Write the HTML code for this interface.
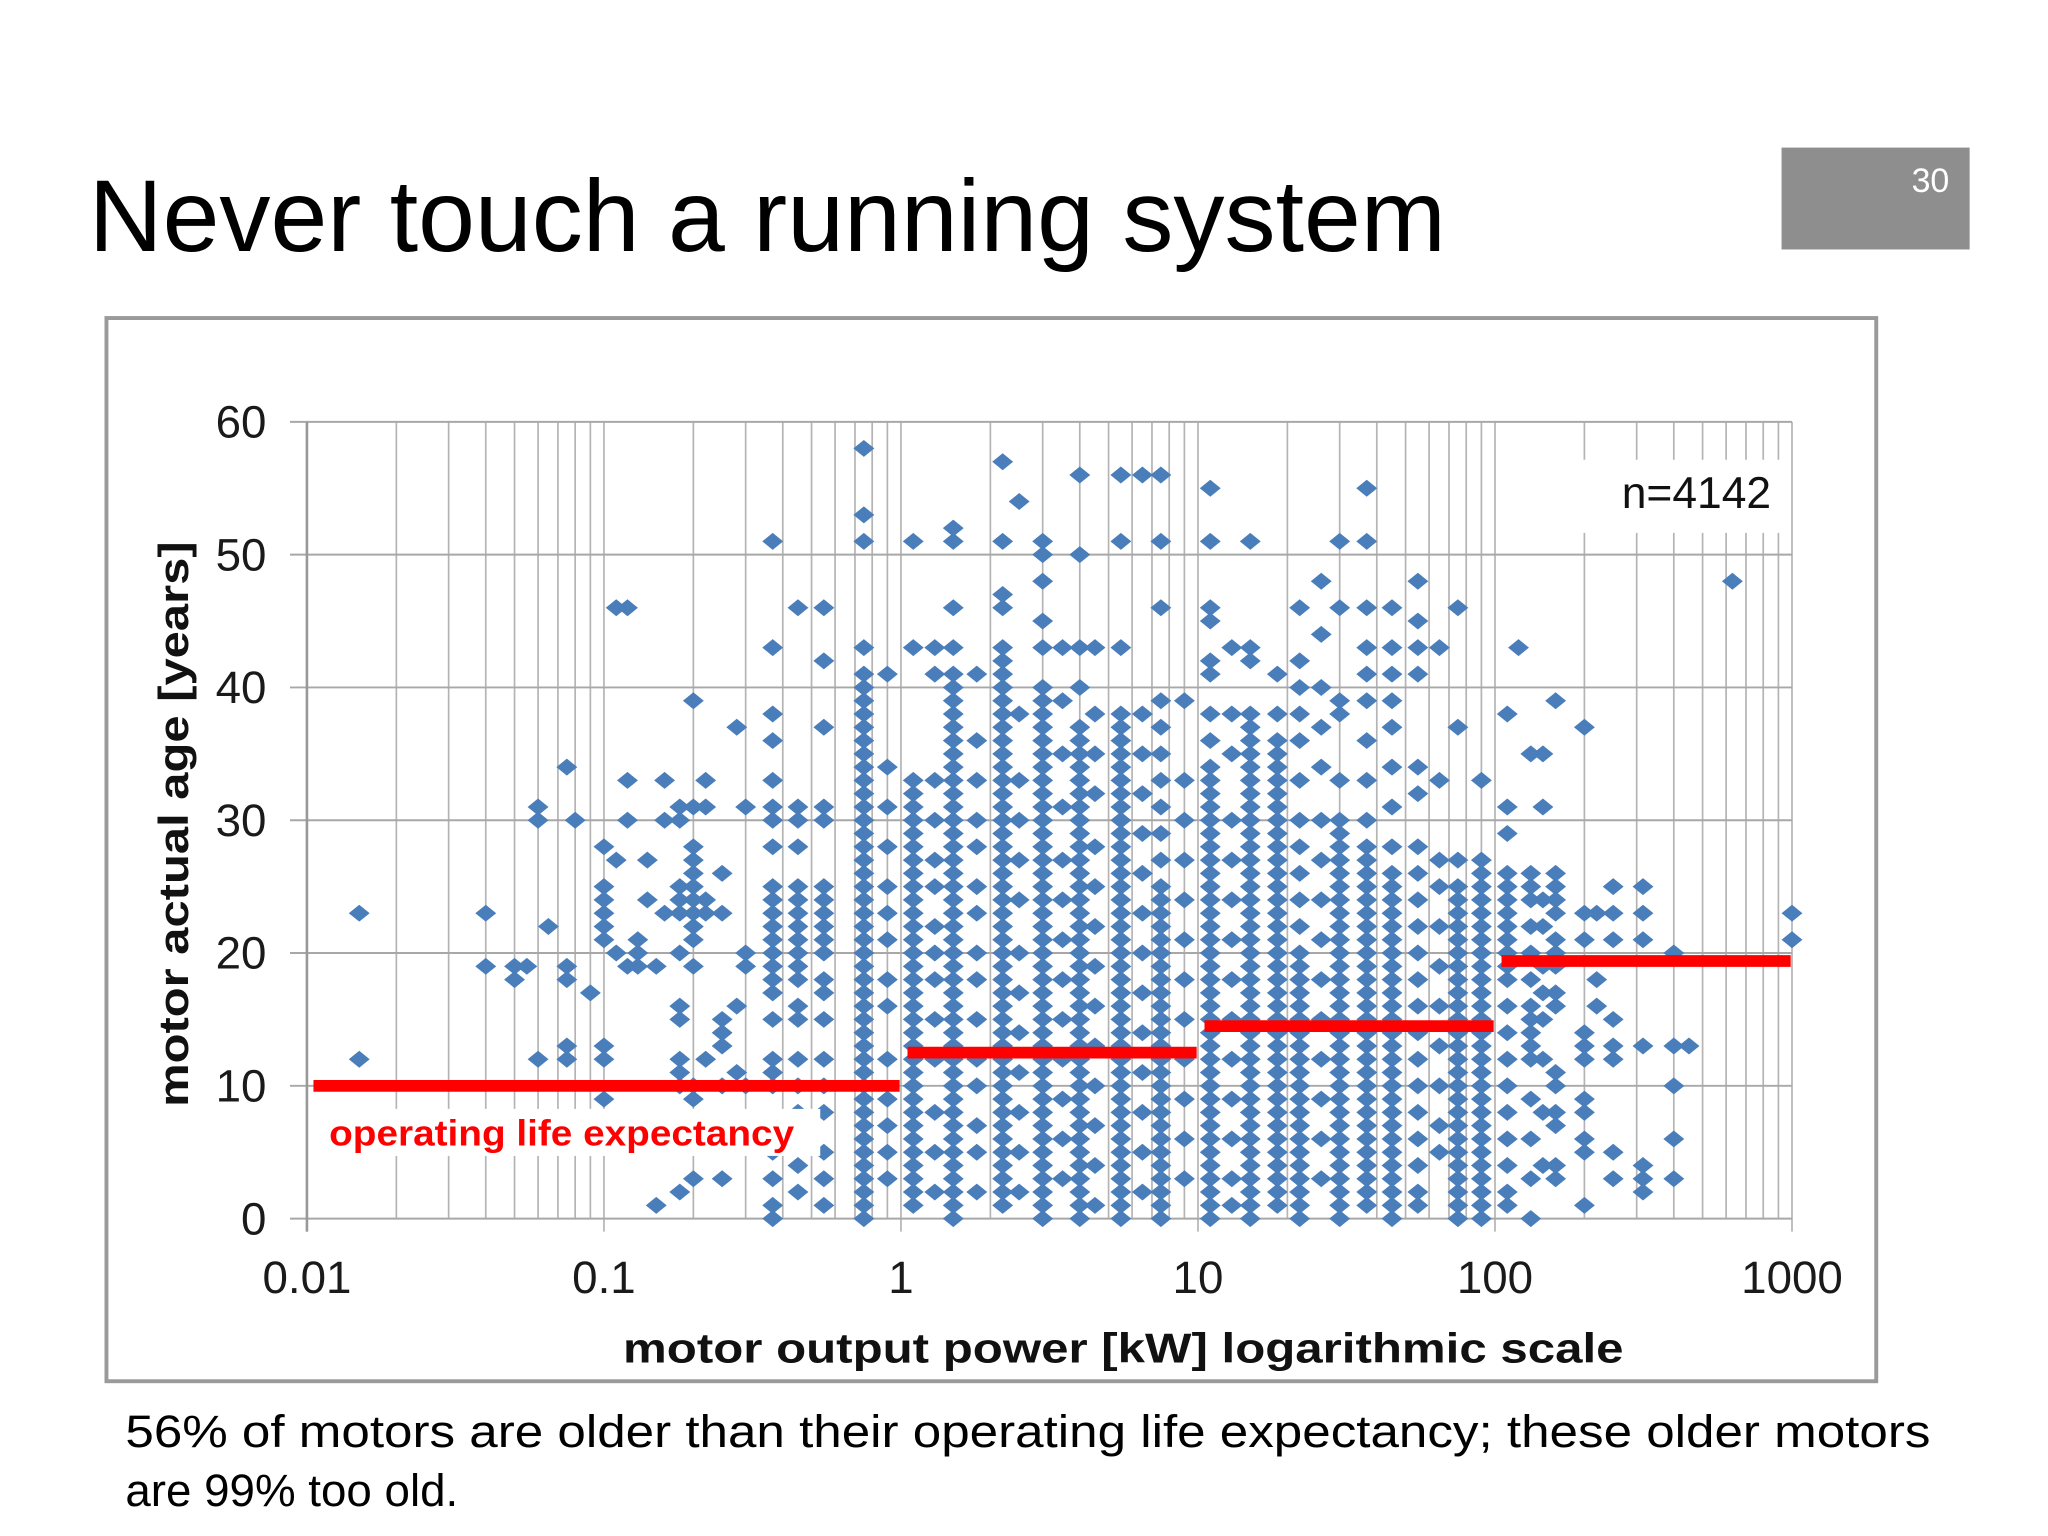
<!DOCTYPE html>
<html><head><meta charset="utf-8"><style>
html,body{margin:0;padding:0;background:#fff;}
svg{display:block;}
</style></head><body>
<svg id="slide" width="2048" height="1536" viewBox="0 0 1568 1176" xmlns="http://www.w3.org/2000/svg" font-family="'Liberation Sans', Arial, sans-serif">
<rect x="0" y="0" width="1568" height="1176" fill="#fff"/>
<text x="68" y="192" font-size="78" fill="#000" textLength="1039" lengthAdjust="spacingAndGlyphs">Never touch a running system</text>
<rect x="1364" y="113" width="144" height="78" fill="#8e8e8e"/>
<text x="1478" y="147" font-size="26" fill="#fff" text-anchor="middle">30</text>
<rect x="81.5" y="243.5" width="1355" height="814" fill="#fff" stroke="#9a9a9a" stroke-width="3"/>
<g id="grid"></g>
<g id="ylabels" font-size="35" fill="#1a1a1a" text-anchor="end"></g>
<g id="xlabels" font-size="35" fill="#1a1a1a" text-anchor="middle"></g>
<rect x="1212" y="352" width="156" height="56" fill="#fff"/>
<text x="1356" y="389" font-size="34" fill="#111" text-anchor="end">n=4142</text>
<g id="points" fill="#4a7ebb"></g>
<rect x="240" y="849" width="388" height="36" fill="#fff"/>
<g id="redlines"></g>
<text x="252" y="877" font-size="28" font-weight="bold" fill="#ff0000" textLength="356" lengthAdjust="spacingAndGlyphs">operating life expectancy</text>
<text transform="translate(144,631) rotate(-90)" font-size="32" font-weight="bold" fill="#111" text-anchor="middle" textLength="433" lengthAdjust="spacingAndGlyphs">motor actual age [years]</text>
<text x="477" y="1043" font-size="32" font-weight="bold" fill="#111" textLength="766" lengthAdjust="spacingAndGlyphs">motor output power [kW] logarithmic scale</text>
<text x="96" y="1108" font-size="35" fill="#000" textLength="1382" lengthAdjust="spacingAndGlyphs">56% of motors are older than their operating life expectancy; these older motors</text>
<text x="96" y="1153" font-size="35" fill="#000">are 99% too old.</text>
</svg>
<script>
const yTicks = [0,10,20,30,40,50,60];
const xTicks = [0.01,0.1,1,10,100,1000];
const xTickLabels = ["0.01","0.1","1","10","100","1000"];
const powers = [0.015,0.04,0.05,0.055,0.06,0.065,0.075,0.08,0.09,0.1,0.11,0.12,0.13,0.14,0.15,0.16,0.18,0.2,0.22,0.25,0.28,0.3,0.37,0.45,0.55,0.75,0.9,1.1,1.3,1.5,1.8,2.2,2.5,3,3.5,4,4.5,5.5,6.5,7.5,9,11,13,15,18.5,22,26,30,37,45,55,65,75,90,110,120,132,145,160,200,220,250,315,400,450,630,1000];
const ages = [
[23,12],[23,19],[19,18],[19],[31,30,12],[22],[34,19,18,13,12],[30],[17],
[28,25,24,23,22,21,13,12,9],[46,27,20],[46,33,30,19],[21,20,19],[27,24],[1,19],[33,30,23],
[31,30,25,24,23,20,16,15,12,11,10,2],
[39,31,28,27,26,25,24,23,22,21,19,10,3,9],
[33,31,24,23,12],[26,23,15,14,13,3,10],[37,16,11],[31,20,19,10],
[51,43,38,36,33,31,30,28,25,24,23,22,21,20,19,18,17,15,12,11,10,7,5,3,0,1],
[46,31,30,28,25,24,23,22,21,20,19,18,16,15,12,10,8,6,4,2],
[46,42,37,31,30,25,24,23,22,21,20,18,17,15,12,10,8,5,3,1],
[58,53,51,43,41,40,39,38,37,36,35,34,33,32,31,30,29,28,27,26,25,24,23,22,21,20,19,18,17,16,15,14,13,12,11,10,9,8,7,6,5,4,3,2,1,0],
[41,34,31,28,25,23,21,18,16,12,9,7,5,3],
[51,43,33,32,31,30,29,28,27,26,25,24,23,22,21,20,19,18,17,16,15,14,13,12,11,10,9,8,7,6,5,4,3,2,1],
[43,41,33,30,27,25,22,20,18,15,12,8,5,2],
[52,51,46,43,41,40,39,38,37,36,35,34,33,32,31,30,29,28,27,26,25,24,23,22,21,20,19,18,17,16,15,14,13,12,11,10,9,8,7,6,5,4,3,2,1,0],
[41,36,33,30,28,25,23,20,18,15,12,10,7,5,2],
[57,51,47,46,43,42,41,40,39,38,37,36,35,34,33,32,31,30,29,28,27,26,25,24,23,22,21,20,19,18,17,16,15,14,13,12,11,10,9,8,7,6,5,4,3,2,1],
[54,38,33,30,27,24,20,17,14,11,8,5,2],
[51,50,48,45,43,40,39,38,37,36,35,34,33,32,31,30,29,28,27,26,25,24,23,22,21,20,19,18,17,16,15,14,13,12,11,10,9,8,7,6,5,4,3,2,1,0],
[43,39,35,31,27,24,21,18,15,12,9,6,3],
[56,50,43,40,37,36,35,34,33,32,31,30,29,28,27,26,25,24,23,22,21,20,19,18,17,16,15,14,13,12,11,10,9,8,7,6,5,4,3,2,1,0],
[43,38,35,32,28,25,22,19,16,13,10,7,4,1],
[56,51,43,38,37,36,35,34,33,32,31,30,29,28,27,26,25,24,23,22,21,20,19,18,17,16,15,14,13,12,11,10,9,8,7,6,5,4,3,2,1,0],
[56,38,35,32,29,26,23,20,17,14,11,8,5,2],
[56,51,46,39,37,35,33,31,29,27,25,24,23,22,21,20,19,18,17,16,15,14,13,12,11,10,9,8,7,6,5,4,3,2,1,0],
[39,33,30,27,24,21,18,15,12,9,6,3],
[55,51,46,45,42,41,38,36,34,33,32,31,30,29,28,27,26,25,24,23,22,21,20,19,18,17,16,15,14,13,12,11,10,9,8,7,6,5,4,3,2,1,0],
[43,38,35,30,27,24,21,18,15,12,9,6,3,1],
[51,43,42,38,37,36,35,34,33,32,31,30,29,28,27,26,25,24,23,22,21,20,19,18,17,16,15,14,13,12,11,10,9,8,7,6,5,4,3,2,1,0],
[41,38,36,35,34,33,32,31,30,29,28,27,26,25,24,23,22,21,20,19,18,17,16,15,14,13,12,11,10,9,8,7,6,5,4,3,2,1],
[46,42,40,38,36,33,30,28,26,24,22,20,19,18,17,16,15,14,13,12,11,10,9,8,7,6,5,4,3,2,1,0],
[48,44,40,37,34,30,27,24,21,18,15,12,9,6,3],
[51,46,39,38,33,30,29,28,27,26,25,24,23,22,21,20,19,18,17,16,15,14,13,12,11,10,9,8,7,6,5,4,3,2,1,0],
[55,51,46,43,41,39,36,33,30,28,27,26,25,24,23,22,21,20,19,18,17,16,15,14,13,12,11,10,9,8,7,6,5,4,3,2,1],
[46,43,41,39,37,34,31,28,26,25,24,23,22,21,20,19,18,17,16,15,14,13,12,11,10,9,8,7,6,5,4,3,2,1,0],
[48,45,43,41,34,32,28,26,24,22,20,18,16,14,12,10,8,6,4,2,1],
[43,33,27,25,22,19,16,13,10,7,5],
[46,37,27,25,24,23,22,21,20,19,18,17,16,15,14,13,12,11,10,9,8,7,6,5,4,3,2,1,0],
[33,27,26,25,24,23,22,21,20,19,18,17,16,15,14,13,12,11,10,9,8,7,6,5,4,3,2,1,0],
[38,31,29,26,25,24,23,22,21,20,19,18,16,14,12,10,8,6,4,2,1],
[43],
[35,26,25,24,22,20,18,16,15,14,13,12,9,6,3,0],
[35,31,24,22,19,17,15,12,8,4],
[39,26,25,24,23,21,20,19,17,16,11,10,8,7,4,3],
[37,23,21,14,13,12,9,8,6,5,1],
[23,18,16],
[25,23,21,15,13,12,5,3],
[25,23,21,13,4,3,2],
[20,13,10,6,3],
[13],[48],[23,21]
];
const lifeStart = [0.01,1,10,100];
const lifeEnd = [1,10,100,1000];
const lifeValue = [10,12.5,14.5,19.4];

const NS = "http://www.w3.org/2000/svg";
const X0 = 235, X1 = 1372, Y0 = 933, Y1 = 323;
function xs(v){ return X0 + (X1 - X0) * (Math.log10(v) - Math.log10(0.01)) / 5; }
function ys(v){ return Y0 - (Y0 - Y1) * v / 60; }
function mk(tag, attrs){ const e = document.createElementNS(NS, tag); for (const k in attrs) e.setAttribute(k, attrs[k]); return e; }

const grid = document.getElementById('grid');
for (let d = 0; d < 5; d++) {
  for (let m = 1; m <= 9; m++) {
    const v = Math.pow(10, d - 2) * m;
    const ln = mk('line', {x1: xs(v), x2: xs(v), y1: Y1, y2: Y0 + (m === 1 ? 10 : 0), stroke: '#b4b4b4', 'stroke-width': 1.3});
    
    
    grid.appendChild(ln);
  }
}
const lastV = mk('line', {x1: X1, x2: X1, y1: Y1, y2: Y0 + 10, stroke: '#b4b4b4', 'stroke-width': 1.3});


grid.appendChild(lastV);
yTicks.forEach(t => {
  const ln = mk('line', {x1: X0 - 13, x2: X1, y1: ys(t), y2: ys(t), stroke: '#a8a8a8', 'stroke-width': 1.5});
  
  
  grid.appendChild(ln);
});
const yAxis = mk('line', {x1: X0, x2: X0, y1: Y1, y2: Y0 + 10, stroke: '#999', 'stroke-width': 2});


grid.appendChild(yAxis);

const yl = document.getElementById('ylabels');
yTicks.forEach(t => {
  const tx = mk('text', {x: 204, y: ys(t) + 12});
  tx.textContent = String(t);
  
  
  yl.appendChild(tx);
});
const xl = document.getElementById('xlabels');
xTicks.forEach((t, i) => {
  const tx = mk('text', {x: xs(t), y: 990});
  tx.textContent = xTickLabels[i];
  
  
  xl.appendChild(tx);
});

const pts = document.getElementById('points');
powers.forEach((p, i) => {
  ages[i].forEach(a => {
    const cx = xs(p), cy = ys(a);
    const d = mk('polygon', {points: `${cx-8},${cy} ${cx},${cy-6.5} ${cx+8},${cy} ${cx},${cy+6.5}`});
    
    
    pts.appendChild(d);
  });
});

const rl = document.getElementById('redlines');
lifeValue.forEach((v, i) => {
  const ln = mk('line', {x1: xs(lifeStart[i]) + 5, x2: xs(lifeEnd[i]) - 1, y1: ys(v), y2: ys(v), stroke: '#ff0000', 'stroke-width': 9});
  
  
  rl.appendChild(ln);
});
</script>
</body></html>
